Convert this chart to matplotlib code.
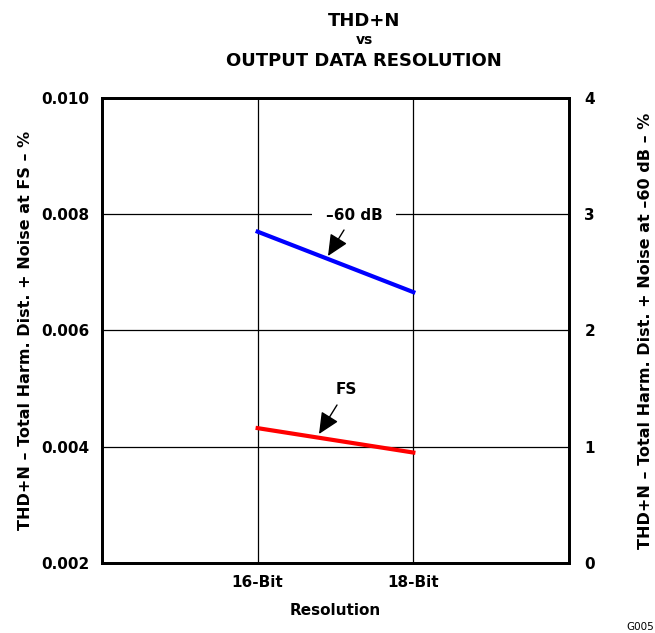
import matplotlib
matplotlib.use("Agg")
import matplotlib.pyplot as plt

plt.rcParams['font.family'] = ['DejaVu Sans']
plt.rcParams['font.weight'] = 'bold'

# data
categories = ["16-Bit", "18-Bit"]
x_pos = [1, 2]
fs_thd = [0.00432, 0.00390]      # left axis, %
m60_thd = [2.85, 2.33]           # right axis, %
left_ticks = [0.002, 0.004, 0.006, 0.008, 0.010]
right_ticks = [0, 1, 2, 3, 4]

fig = plt.figure(figsize=(6.55, 6.33), dpi=100)
ax = fig.add_axes([0.1557, 0.1106, 0.7130, 0.7346])
ax2 = ax.twinx()

ax.set_xlim(0, 3)
ax.set_ylim(0.002, 0.010)
ax2.set_ylim(0, 4)

ax.set_xticks(x_pos)
ax.set_xticklabels(categories, fontsize=11, fontweight='bold')
ax.set_yticks(left_ticks)
ax.set_yticklabels([f"{t:.3f}" for t in left_ticks], fontsize=11, fontweight='bold')
ax2.set_yticks(right_ticks)
ax2.set_yticklabels([str(t) for t in right_ticks], fontsize=11, fontweight='bold')

ax.grid(True, color='black', linewidth=0.9)
ax.tick_params(length=0, pad=9)
ax2.tick_params(length=0, pad=11)
for a in (ax, ax2):
    for s in a.spines.values():
        s.set_linewidth(2)

ax.plot(x_pos, fs_thd, color='red', linewidth=3, zorder=5)
ax2.plot(x_pos, m60_thd, color='blue', linewidth=3, zorder=5)

# annotations
arrow = dict(arrowstyle='-|>,head_length=0.65,head_width=0.3', color='black',
             lw=1, mutation_scale=20, shrinkA=0, shrinkB=0)
ax.text(346, 633 - 389, "FS", transform=None, ha='center', va='center',
        fontsize=11, fontweight='bold')
ax.text(354, 633 - 215, "\u201360 dB", transform=None, ha='center', va='center',
        fontsize=11, fontweight='bold', zorder=6,
        bbox=dict(boxstyle='square,pad=0.9', fc='white', ec='none'))
ax.annotate("", xy=(319, 633 - 434), xycoords='figure pixels',
            xytext=(337, 633 - 405), textcoords='figure pixels',
            arrowprops=arrow, zorder=8)
ax.annotate("", xy=(328, 633 - 256), xycoords='figure pixels',
            xytext=(344, 633 - 230), textcoords='figure pixels',
            arrowprops=arrow, zorder=8)

ax.set_xlabel("Resolution", fontsize=11, fontweight='bold', labelpad=9)
ax.set_ylabel("THD+N \u2013 Total Harm. Dist. + Noise at FS \u2013 %",
              fontsize=11.5, fontweight='bold', labelpad=6)
ax2.set_ylabel("THD+N \u2013 Total Harm. Dist. + Noise at \u201360 dB \u2013 %",
               fontsize=11.5, fontweight='bold', labelpad=31)

fig.text(364 / 655, 1 - 20.5 / 633, "THD+N", ha='center', va='center', fontsize=13, fontweight='bold')
fig.text(364 / 655, 1 - 40 / 633, "vs", ha='center', va='center', fontsize=10, fontweight='bold')
fig.text(364 / 655, 1 - 61.5 / 633, "OUTPUT DATA RESOLUTION", ha='center', va='center', fontsize=13, fontweight='bold')
fig.text(0.998, 1 - 627 / 633, "G005", ha='right', va='center', fontsize=7.5, fontweight='normal')

fig.savefig("out.png", dpi=100)
